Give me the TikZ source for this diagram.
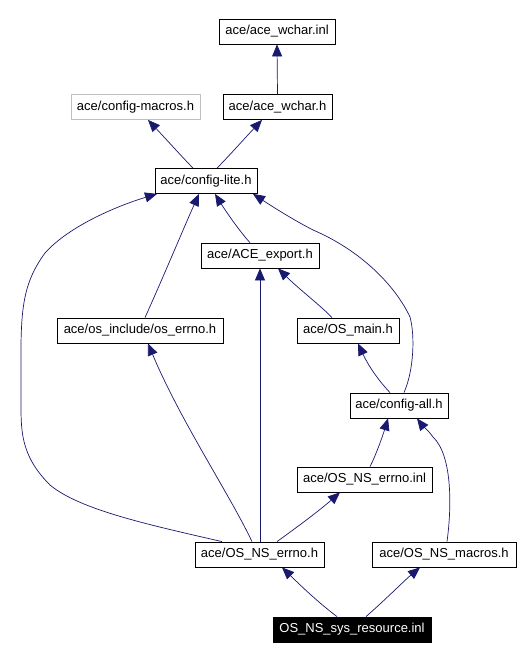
\documentclass[tikz,border=0pt]{standalone}
\usepackage{fontspec}
\setmainfont{Liberation Sans}
\usetikzlibrary{arrows.meta}
\definecolor{edgeblue}{HTML}{191970}
\definecolor{graybox}{HTML}{BFBFBF}
\tikzset{
  box/.style={draw=black, line width=0.8pt, fill=white, inner sep=0pt, minimum height=25pt, font=\fontsize{13}{15}\selectfont, anchor=center},
  graynode/.style={box, draw=graybox},
  mainnode/.style={box, fill=black, text=white},
  dep/.style={draw=edgeblue, line width=0.7pt, -{Triangle[length=12pt,width=10pt]}},
}
\begin{document}
\begin{tikzpicture}[x=1pt,y=-1pt]
\useasboundingbox (0,0) rectangle (524,659);
\fill[white] (0,0) rectangle (524,659);
\node[box, minimum width=116pt] (wcharinl) at (277,31.5) {ace/ace\_wchar.inl};
\node[graynode, minimum width=129pt] (macros) at (135.5,107) {ace/config-macros.h};
\node[box, minimum width=109pt] (wcharh) at (277.5,107) {ace/ace\_wchar.h};
\node[box, minimum width=102pt] (lite) at (206,181) {ace/config-lite.h};
\node[box, minimum width=118pt] (export) at (260,255.5) {ace/ACE\_export.h};
\node[box, minimum width=166pt] (oserrno) at (140,330.5) {ace/os\_include/os\_errno.h};
\node[box, minimum width=102pt] (osmain) at (348,330.5) {ace/OS\_main.h};
\node[box, minimum width=98pt] (all) at (399,405.5) {ace/config-all.h};
\node[box, minimum width=135pt] (nserrnoinl) at (364.5,479.5) {ace/OS\_NS\_errno.inl};
\node[box, minimum width=129pt] (nserrnoh) at (259.5,554.5) {ace/OS\_NS\_errno.h};
\node[box, minimum width=144pt] (nsmacros) at (444,554.5) {ace/OS\_NS\_macros.h};
\node[mainnode, minimum width=158pt] (res) at (352,629.5) {OS\_NS\_sys\_resource.inl};

\draw[dep] (wcharh.north) -- (wcharinl.south);
\draw[dep] (lite.north -| 193,0) .. controls (185,160) and (165,138) .. (macros.south -| 148,0);
\draw[dep] (lite.north -| 217,0) .. controls (228,157) and (245,138) .. (wcharh.south -| 262,0);
\draw[dep] (oserrno.north -| 145,0) .. controls (162,280) and (185,225) .. (lite.south -| 199,0);
\draw[dep] (export.north -| 250,0) .. controls (240,232) and (225,210) .. (lite.south -| 215,0);
\draw[dep] (all.north -| 404,0) .. controls (414,370) and (415,335) .. (410,317)
  .. controls (395,285) and (360,250) .. (313,230)
  .. controls (290,218) and (270,205) .. (lite.south -| 253,0);
\draw[dep] (nserrnoh.north -| 222,0) .. controls (150,525) and (80,510) .. (50,485)
  .. controls (20,455) and (21,430) .. (21,400)
  .. controls (21,320) and (18,290) .. (45,253)
  .. controls (70,225) and (120,205) .. (lite.south -| 157,0);
\draw[dep] (nserrnoh.north -| 252,0) .. controls (230,495) and (180,420) .. (oserrno.south -| 148,0);
\draw[dep] (nserrnoh.north -| 260,0) -- (export.south -| 260,0);
\draw[dep] (osmain.north -| 332,0) .. controls (320,305) and (300,290) .. (export.south -| 278,0);
\draw[dep] (all.north -| 390,0) .. controls (378,380) and (368,365) .. (osmain.south -| 358,0);
\draw[dep] (nserrnoinl.north -| 370,0) .. controls (376,455) and (383,435) .. (all.south -| 388,0);
\draw[dep] (nsmacros.north -| 447,0) .. controls (452,505) and (452,455) .. (433,437)
  .. controls (428,430) and (422,425) .. (all.south -| 417,0);
\draw[dep] (nserrnoh.north -| 277,0) .. controls (300,525) and (320,510) .. (nserrnoinl.south -| 340,0);
\draw[dep] (res.north -| 337,0) .. controls (315,600) and (295,580) .. (nserrnoh.south -| 282,0);
\draw[dep] (res.north -| 366,0) .. controls (385,600) and (405,580) .. (nsmacros.south -| 420,0);
\end{tikzpicture}
\end{document}
